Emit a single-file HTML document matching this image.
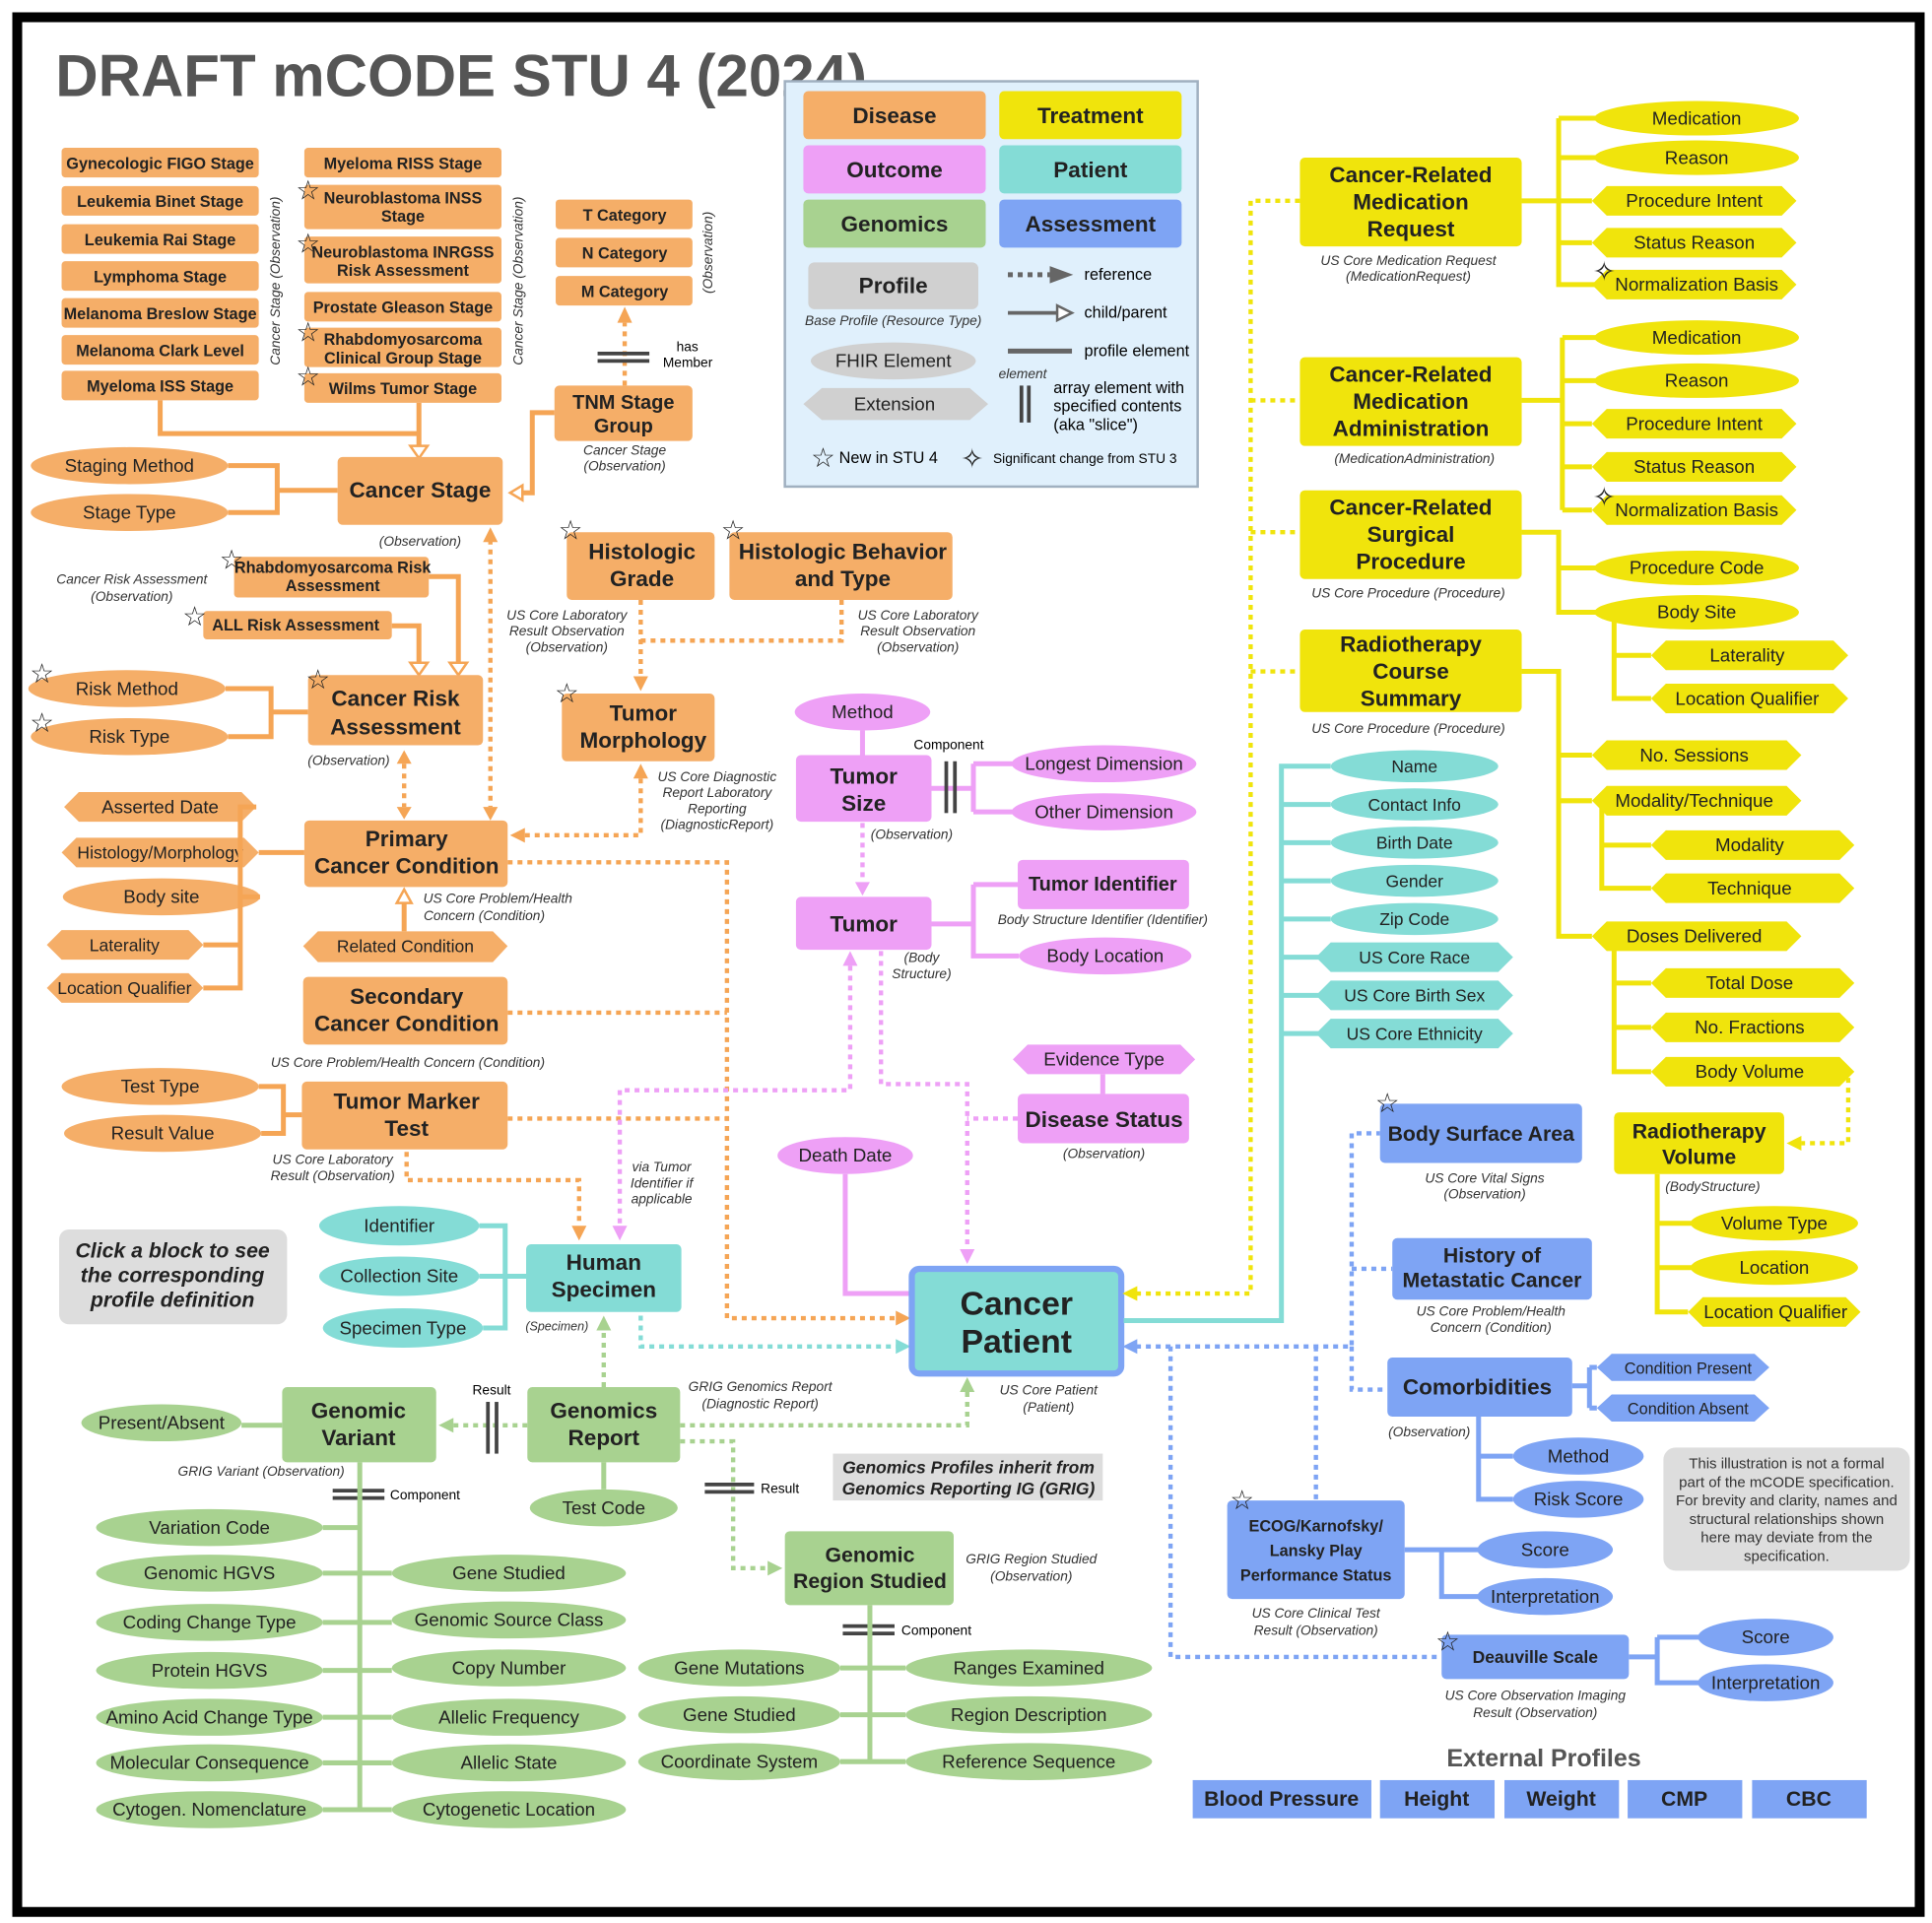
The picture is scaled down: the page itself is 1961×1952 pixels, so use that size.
<!DOCTYPE html>
<html><head><meta charset="utf-8"><style>
html,body{margin:0;padding:0;background:#fff}
svg{display:block;font-family:"Liberation Sans",sans-serif}
.o{fill:#f5ae68}.y{fill:#f0e40c}.p{fill:#eea0f6}.t{fill:#84dcd6}.g{fill:#a8d290}.b{fill:#7ea4f4}.gr{fill:#d0d0d0}
.L{font-weight:bold;font-size:18px;text-anchor:middle;fill:#222}
.S{font-weight:bold;font-size:13px;text-anchor:middle;fill:#222}
.E{font-size:15px;text-anchor:middle;fill:#222}
.I{font-style:italic;font-size:11px;text-anchor:middle;fill:#333}
.st{font-size:22px;text-anchor:middle;fill:#222}
[font-size="10"]{font-size:10px}[font-size="11"]{font-size:11px}[font-size="12"]{font-size:12px}[font-size="13"]{font-size:13px}
[font-size="14"]{font-size:14px}[font-size="16"]{font-size:16px}[font-size="17"]{font-size:17px}[font-size="20"]{font-size:20px}[font-size="27"]{font-size:27px}
[fill="#555"]{fill:#555}
.lo{stroke:#f5a555;stroke-width:4;fill:none}
.do{stroke:#f5a555;stroke-width:3.5;fill:none;stroke-dasharray:4 4}
.lp{stroke:#eea0f6;stroke-width:4;fill:none}
.dp{stroke:#eea0f6;stroke-width:3.5;fill:none;stroke-dasharray:4 4}
.ly{stroke:#f0e40c;stroke-width:4;fill:none}
.dy{stroke:#f0e40c;stroke-width:3.5;fill:none;stroke-dasharray:4 4}
.lt{stroke:#84dcd6;stroke-width:4;fill:none}
.dt{stroke:#84dcd6;stroke-width:3.5;fill:none;stroke-dasharray:4 4}
.lb{stroke:#7ea4f4;stroke-width:4;fill:none}
.db{stroke:#7ea4f4;stroke-width:3.5;fill:none;stroke-dasharray:4 4}
.lg{stroke:#a8d290;stroke-width:4;fill:none}
.dg{stroke:#a8d290;stroke-width:3.5;fill:none;stroke-dasharray:4 4}
.bar{stroke:#444;stroke-width:3;fill:none}
</style></head><body>
<svg width="1961" height="1952" viewBox="0 0 1568 1561" preserveAspectRatio="none" xmlns="http://www.w3.org/2000/svg">
<rect x="0" y="0" width="1568" height="1561" fill="#fff"/>
<rect x="14" y="14" width="1544" height="1538" fill="none" stroke="#000" stroke-width="8"/>
<text x="45" y="78" font-size="48" font-weight="bold" fill="#555">DRAFT mCODE STU 4 (2024)</text>

<!-- Legend -->
<rect x="637" y="66" width="335" height="329" fill="#e0f0fc" stroke="#a0b0c0" stroke-width="2"/>
<rect x="652" y="74" width="148" height="39" rx="4" class="o"/><text x="726" y="100" class="L">Disease</text>
<rect x="811" y="74" width="148" height="39" rx="4" class="y"/><text x="885" y="100" class="L">Treatment</text>
<rect x="652" y="118" width="148" height="39" rx="4" class="p"/><text x="726" y="144" class="L">Outcome</text>
<rect x="811" y="118" width="148" height="39" rx="4" class="t"/><text x="885" y="144" class="L">Patient</text>
<rect x="652" y="162" width="148" height="39" rx="4" class="g"/><text x="726" y="188" class="L">Genomics</text>
<rect x="811" y="162" width="148" height="39" rx="4" class="b"/><text x="885" y="188" class="L">Assessment</text>
<rect x="656" y="213" width="138" height="38" rx="5" class="gr"/><text x="725" y="238" class="L">Profile</text>
<text x="725" y="264" class="I">Base Profile (Resource Type)</text>
<ellipse cx="725" cy="293" rx="67" ry="15" class="gr"/><text x="725" y="298" class="E">FHIR Element</text>
<polygon points="652,328 667,315 787,315 802,328 787,341 667,341" class="gr"/><text x="726" y="333" class="E">Extension</text>
<line x1="818" y1="223" x2="852" y2="223" stroke="#666" stroke-width="4" stroke-dasharray="4 4"/><polygon points="852,216 871,223 852,230" fill="#666"/>
<text x="880" y="227" font-size="13">reference</text>
<line x1="818" y1="254" x2="858" y2="254" stroke="#666" stroke-width="3"/><polygon points="858,248 870,254 858,260" fill="#fff" stroke="#666" stroke-width="2"/>
<text x="880" y="258" font-size="13">child/parent</text>
<line x1="818" y1="285" x2="870" y2="285" stroke="#666" stroke-width="4"/><text x="880" y="289" font-size="13">profile element</text>
<text x="830" y="307" class="I">element</text>
<line x1="829" y1="313" x2="829" y2="343" class="bar"/><line x1="835" y1="313" x2="835" y2="343" class="bar"/>
<text x="855" y="319" font-size="13">array element with</text><text x="855" y="334" font-size="13">specified contents</text><text x="855" y="349" font-size="13">(aka "slice")</text>
<text x="668" y="379" class="st">☆</text><text x="681" y="376" font-size="13">New in STU 4</text>
<text x="789" y="380" class="st">✧</text><text x="806" y="376" font-size="11">Significant change from STU 3</text>

<!-- Stage boxes left -->
<g>
<rect x="50" y="120" width="160" height="24" rx="3" class="o"/><text x="130" y="137" class="S">Gynecologic FIGO Stage</text>
<rect x="50" y="151" width="160" height="24" rx="3" class="o"/><text x="130" y="168" class="S">Leukemia Binet Stage</text>
<rect x="50" y="182" width="160" height="24" rx="3" class="o"/><text x="130" y="199" class="S">Leukemia Rai Stage</text>
<rect x="50" y="212" width="160" height="24" rx="3" class="o"/><text x="130" y="229" class="S">Lymphoma Stage</text>
<rect x="50" y="242" width="160" height="24" rx="3" class="o"/><text x="130" y="259" class="S">Melanoma Breslow Stage</text>
<rect x="50" y="272" width="160" height="24" rx="3" class="o"/><text x="130" y="289" class="S">Melanoma Clark Level</text>
<rect x="50" y="301" width="160" height="24" rx="3" class="o"/><text x="130" y="318" class="S">Myeloma ISS Stage</text>
</g>
<text transform="translate(227,228) rotate(-90)" class="I">Cancer Stage (Observation)</text>
<rect x="247" y="120" width="160" height="24" rx="3" class="o"/><text x="327" y="137" class="S">Myeloma RISS Stage</text>
<rect x="247" y="150" width="160" height="36" rx="3" class="o"/><text x="327" y="165" class="S">Neuroblastoma INSS</text><text x="327" y="180" class="S">Stage</text>
<rect x="247" y="192" width="160" height="38" rx="3" class="o"/><text x="327" y="209" class="S">Neuroblastoma INRGSS</text><text x="327" y="224" class="S">Risk Assessment</text>
<rect x="247" y="237" width="160" height="24" rx="3" class="o"/><text x="327" y="254" class="S">Prostate Gleason Stage</text>
<rect x="247" y="266" width="160" height="32" rx="3" class="o"/><text x="327" y="280" class="S">Rhabdomyosarcoma</text><text x="327" y="295" class="S">Clinical Group Stage</text>
<rect x="247" y="303" width="160" height="24" rx="3" class="o"/><text x="327" y="320" class="S">Wilms Tumor Stage</text>
<text transform="translate(424,228) rotate(-90)" class="I">Cancer Stage (Observation)</text>
<text x="250" y="162" class="st">☆</text><text x="250" y="205" class="st">☆</text><text x="250" y="277" class="st">☆</text><text x="250" y="313" class="st">☆</text>
<rect x="451" y="162" width="111" height="24" rx="3" class="o"/><text x="507" y="179" class="S">T Category</text>
<rect x="451" y="193" width="111" height="24" rx="3" class="o"/><text x="507" y="210" class="S">N Category</text>
<rect x="451" y="224" width="111" height="24" rx="3" class="o"/><text x="507" y="241" class="S">M Category</text>
<text transform="translate(578,205) rotate(-90)" class="I">(Observation)</text>
<line x1="507" y1="313" x2="507" y2="262" class="do"/><polygon points="501,262 507,249 513,262" fill="#f5a555"/>
<line x1="485" y1="287" x2="527" y2="287" class="bar"/><line x1="485" y1="293" x2="527" y2="293" class="bar"/>
<text x="549" y="285" font-size="11">has</text><text x="538" y="298" font-size="11">Member</text>
<rect x="450" y="313" width="112" height="45" rx="4" class="o"/><text x="506" y="332" class="L" font-size="16">TNM Stage</text><text x="506" y="351" class="L" font-size="16">Group</text>
<text x="507" y="369" class="I">Cancer Stage</text><text x="507" y="382" class="I">(Observation)</text>

<!-- Cancer Stage -->
<path d="M130,325 V352 H340 V362 M340,327 V352" class="lo"/><polygon points="333,362 340,372 347,362" fill="#fff" stroke="#f5a555" stroke-width="2"/>
<path d="M450,335 H432 V400 H424" class="lo"/><polygon points="424,394 414,400 424,406" fill="#fff" stroke="#f5a555" stroke-width="2"/>
<ellipse cx="105" cy="378" rx="80" ry="15" class="o"/><text x="105" y="383" class="E">Staging Method</text>
<ellipse cx="105" cy="416" rx="80" ry="15" class="o"/><text x="105" y="421" class="E">Stage Type</text>
<path d="M185,378 H225 V416 H185 M225,398 H274" class="lo"/>
<rect x="274" y="371" width="134" height="55" rx="4" class="o"/><text x="341" y="404" class="L">Cancer Stage</text>
<text x="341" y="443" class="I">(Observation)</text>
<line x1="398" y1="438" x2="398" y2="655" class="do"/><polygon points="392,440 398,428 404,440" fill="#f5a555"/><polygon points="392,655 398,666 404,655" fill="#f5a555"/>

<!-- Risk -->
<text x="107" y="474" class="I">Cancer Risk Assessment</text><text x="107" y="488" class="I">(Observation)</text>
<rect x="190" y="452" width="158" height="33" rx="3" class="o"/><text x="270" y="465" class="S">Rhabdomyosarcoma Risk</text><text x="270" y="480" class="S">Assessment</text>
<rect x="165" y="496" width="153" height="23" rx="3" class="o"/><text x="240" y="512" class="S">ALL Risk Assessment</text>
<text x="188" y="462" class="st">☆</text><text x="158" y="508" class="st">☆</text>
<path d="M348,468 H372 V538 M318,508 H340 V538" class="lo"/>
<polygon points="365,538 372,548 379,538" fill="#fff" stroke="#f5a555" stroke-width="2"/><polygon points="333,538 340,548 347,538" fill="#fff" stroke="#f5a555" stroke-width="2"/>
<ellipse cx="103" cy="559" rx="80" ry="15" class="o"/><text x="103" y="564" class="E">Risk Method</text>
<ellipse cx="105" cy="598" rx="80" ry="15" class="o"/><text x="105" y="603" class="E">Risk Type</text>
<text x="34" y="554" class="st">☆</text><text x="34" y="594" class="st">☆</text>
<path d="M183,559 H220 V598 H185 M220,578 H250" class="lo"/>
<rect x="250" y="548" width="142" height="57" rx="4" class="o"/><text x="321" y="573" class="L">Cancer Risk</text><text x="321" y="596" class="L">Assessment</text>
<text x="258" y="559" class="st">☆</text>
<text x="283" y="621" class="I">(Observation)</text>
<line x1="328" y1="620" x2="328" y2="655" class="do"/><polygon points="322,620 328,609 334,620" fill="#f5a555"/><polygon points="322,655 328,665 334,655" fill="#f5a555"/>

<!-- Histologic -->
<rect x="460" y="432" width="120" height="55" rx="4" class="o"/><text x="521" y="454" class="L">Histologic</text><text x="521" y="476" class="L">Grade</text>
<rect x="592" y="432" width="181" height="55" rx="4" class="o"/><text x="684" y="454" class="L">Histologic Behavior</text><text x="684" y="476" class="L">and Type</text>
<text x="463" y="438" class="st">☆</text><text x="595" y="438" class="st">☆</text>
<text x="460" y="503" class="I">US Core Laboratory</text><text x="460" y="516" class="I">Result Observation</text><text x="460" y="529" class="I">(Observation)</text>
<text x="745" y="503" class="I">US Core Laboratory</text><text x="745" y="516" class="I">Result Observation</text><text x="745" y="529" class="I">(Observation)</text>
<path d="M520,487 V550 M683,487 V520 H520" class="do"/><polygon points="514,549 520,561 526,549" fill="#f5a555"/>
<rect x="456" y="563" width="124" height="55" rx="4" class="o"/><text x="522" y="585" class="L">Tumor</text><text x="522" y="607" class="L">Morphology</text>
<text x="460" y="570" class="st">☆</text>
<text x="582" y="634" class="I">US Core Diagnostic</text><text x="582" y="647" class="I">Report Laboratory</text><text x="582" y="660" class="I">Reporting</text><text x="582" y="673" class="I">(DiagnosticReport)</text>
<path d="M520,632 V678 H425" class="do"/><polygon points="514,632 520,620 526,632" fill="#f5a555"/><polygon points="426,672 414,678 426,684" fill="#f5a555"/>

<!-- Primary -->
<polygon points="52,655 64,643 196,643 208,655 196,667 64,667" class="o"/><text x="130" y="660" class="E">Asserted Date</text>
<polygon points="50,692 62,680 198,680 210,692 198,704 62,704" class="o"/><text x="130" y="697" class="E" font-size="14">Histology/Morphology</text>
<ellipse cx="131" cy="728" rx="80" ry="15" class="o"/><text x="131" y="733" class="E">Body site</text>
<polygon points="38,767 50,755 153,755 165,767 153,779 50,779" class="o"/><text x="101" y="772" class="E" font-size="14">Laterality</text>
<polygon points="38,802 50,790 153,790 165,802 153,814 50,814" class="o"/><text x="101" y="807" class="E" font-size="14">Location Qualifier</text>
<path d="M208,655 H195 V802 H165 M210,692 H247 M211,728 H195 M165,767 H195" class="lo"/>
<rect x="247" y="666" width="165" height="54" rx="4" class="o"/><text x="330" y="687" class="L">Primary</text><text x="330" y="709" class="L">Cancer Condition</text>
<text x="404" y="733" class="I">US Core Problem/Health</text><text x="393" y="747" class="I">Concern (Condition)</text>
<line x1="328" y1="756" x2="328" y2="732" class="lo"/><polygon points="322,733 328,722 334,733" fill="#fff" stroke="#f5a555" stroke-width="2"/>
<polygon points="246,768 258,756 400,756 412,768 400,781 258,781" class="o"/><text x="329" y="773" class="E" font-size="14">Related Condition</text>
<rect x="246" y="793" width="166" height="55" rx="4" class="o"/><text x="330" y="815" class="L">Secondary</text><text x="330" y="837" class="L">Cancer Condition</text>
<text x="331" y="866" class="I">US Core Problem/Health Concern (Condition)</text>

<!-- Tumor marker -->
<ellipse cx="130" cy="882" rx="80" ry="15" class="o"/><text x="130" y="887" class="E">Test Type</text>
<ellipse cx="132" cy="920" rx="80" ry="15" class="o"/><text x="132" y="925" class="E">Result Value</text>
<path d="M210,882 H230 V920 H212 M230,905 H245" class="lo"/>
<rect x="245" y="878" width="167" height="55" rx="4" class="o"/><text x="330" y="900" class="L">Tumor Marker</text><text x="330" y="922" class="L">Test</text>
<text x="270" y="945" class="I">US Core Laboratory</text><text x="270" y="958" class="I">Result (Observation)</text>
<path d="M330,935 V958 H470 V995" class="do"/><polygon points="464,995 470,1007 476,995" fill="#f5a555"/>
<path d="M412,700 H590 V1070 H728 M412,822 H590 M412,908 H590" class="do"/><polygon points="727,1064 739,1070 727,1076" fill="#f5a555"/>

<!-- Specimen -->
<rect x="48" y="998" width="185" height="77" rx="8" fill="#ddd"/>
<text x="140" y="1021" class="L" font-size="17" font-style="italic">Click a block to see</text>
<text x="140" y="1041" class="L" font-size="17" font-style="italic">the corresponding</text>
<text x="140" y="1061" class="L" font-size="17" font-style="italic">profile definition</text>
<ellipse cx="324" cy="995" rx="65" ry="16" class="t"/><text x="324" y="1000" class="E">Identifier</text>
<ellipse cx="324" cy="1036" rx="65" ry="16" class="t"/><text x="324" y="1041" class="E">Collection Site</text>
<ellipse cx="327" cy="1078" rx="65" ry="16" class="t"/><text x="327" y="1083" class="E">Specimen Type</text>
<path d="M389,995 H410 V1078 H392 M389,1036 H427" class="lt"/>
<rect x="427" y="1010" width="126" height="55" rx="4" class="t"/><text x="490" y="1031" class="L">Human</text><text x="490" y="1053" class="L">Specimen</text>
<text x="452" y="1080" class="I" font-size="10">(Specimen)</text>
<path d="M520,1068 V1093 H728" class="dt"/><polygon points="727,1087 739,1093 727,1099" fill="#84dcd6"/>

<!-- Pink -->
<ellipse cx="700" cy="578" rx="55" ry="15" class="p"/><text x="700" y="583" class="E">Method</text>
<line x1="700" y1="593" x2="700" y2="613" class="lp"/>
<text x="770" y="608" font-size="11" text-anchor="middle">Component</text>
<rect x="646" y="613" width="110" height="54" rx="4" class="p"/><text x="701" y="636" class="L">Tumor</text><text x="701" y="658" class="L">Size</text>
<path d="M756,640 H790 M790,620 V659 M790,620 H822 M790,659 H822" class="lp"/>
<line x1="768" y1="618" x2="768" y2="660" class="bar"/><line x1="775" y1="618" x2="775" y2="660" class="bar"/>
<ellipse cx="896" cy="620" rx="75" ry="15" class="p"/><text x="896" y="625" class="E">Longest Dimension</text>
<ellipse cx="896" cy="659" rx="75" ry="15" class="p"/><text x="896" y="664" class="E">Other Dimension</text>
<text x="740" y="681" class="I">(Observation)</text>
<line x1="700" y1="668" x2="700" y2="716" class="dp"/><polygon points="694,716 700,727 706,716" fill="#eea0f6"/>
<rect x="646" y="728" width="110" height="43" rx="4" class="p"/><text x="701" y="756" class="L">Tumor</text>
<text x="748" y="781" class="I">(Body</text><text x="748" y="794" class="I">Structure)</text>
<path d="M756,750 H790 M790,718 V776 H827 M790,718 H826" class="lp"/>
<rect x="826" y="698" width="139" height="40" rx="4" class="p"/><text x="895" y="723" class="L" font-size="16">Tumor Identifier</text>
<text x="895" y="750" class="I">Body Structure Identifier (Identifier)</text>
<ellipse cx="897" cy="776" rx="70" ry="15" class="p"/><text x="897" y="781" class="E">Body Location</text>
<path d="M690,784 V885 H503 V995" class="dp"/><polygon points="684,784 690,772 696,784" fill="#eea0f6"/><polygon points="497,995 503,1007 509,995" fill="#eea0f6"/>
<text x="537" y="951" class="I">via Tumor</text><text x="537" y="964" class="I">Identifier if</text><text x="537" y="977" class="I">applicable</text>
<path d="M715,772 V880 H785 V1015 M826,908 H785" class="dp"/><polygon points="779,1014 785,1026 791,1014" fill="#eea0f6"/>
<polygon points="822,860 834,848 958,848 970,860 958,872 834,872" class="p"/><text x="896" y="865" class="E">Evidence Type</text>
<line x1="895" y1="872" x2="895" y2="888" class="lp"/>
<rect x="826" y="888" width="139" height="40" rx="4" class="p"/><text x="896" y="915" class="L">Disease Status</text>
<text x="896" y="940" class="I">(Observation)</text>
<ellipse cx="686" cy="938" rx="55" ry="15" class="p"/><text x="686" y="943" class="E">Death Date</text>
<path d="M686,953 V1050 H740" class="lp"/>

<!-- Cancer Patient -->
<rect x="740" y="1030" width="170" height="85" rx="6" fill="#84dcd6" stroke="#7ea4f4" stroke-width="5"/>
<text x="825" y="1067" class="L" font-size="27">Cancer</text><text x="825" y="1098" class="L" font-size="27">Patient</text>
<text x="851" y="1132" class="I">US Core Patient</text><text x="851" y="1146" class="I">(Patient)</text>

<!-- Teal patient -->
<path d="M912,1072 H1040 V622 H1080 M1040,653 H1080 M1040,684 H1080 M1040,715 H1080 M1040,746 H1080 M1040,777 H1070 M1040,808 H1070 M1040,839 H1070" class="lt"/>
<ellipse cx="1148" cy="622" rx="68" ry="13" class="t"/><text x="1148" y="627" class="E" font-size="14">Name</text>
<ellipse cx="1148" cy="653" rx="68" ry="13" class="t"/><text x="1148" y="658" class="E" font-size="14">Contact Info</text>
<ellipse cx="1148" cy="684" rx="68" ry="13" class="t"/><text x="1148" y="689" class="E" font-size="14">Birth Date</text>
<ellipse cx="1148" cy="715" rx="68" ry="13" class="t"/><text x="1148" y="720" class="E" font-size="14">Gender</text>
<ellipse cx="1148" cy="746" rx="68" ry="13" class="t"/><text x="1148" y="751" class="E" font-size="14">Zip Code</text>
<polygon points="1068,777 1080,765 1216,765 1228,777 1216,789 1080,789" class="t"/><text x="1148" y="782" class="E" font-size="14">US Core Race</text>
<polygon points="1068,808 1080,796 1216,796 1228,808 1216,820 1080,820" class="t"/><text x="1148" y="813" class="E" font-size="14">US Core Birth Sex</text>
<polygon points="1068,839 1080,827 1216,827 1228,839 1216,851 1080,851" class="t"/><text x="1148" y="844" class="E" font-size="14">US Core Ethnicity</text>

<!-- Yellow -->
<path d="M1055,163 H1015 V1050 H922 M1015,325 H1055 M1015,432 H1055 M1015,545 H1055" class="dy"/><polygon points="923,1044 911,1050 923,1056" fill="#f0e40c"/>
<rect x="1055" y="128" width="180" height="72" rx="4" class="y"/><text x="1145" y="148" class="L">Cancer-Related</text><text x="1145" y="170" class="L">Medication</text><text x="1145" y="192" class="L">Request</text>
<text x="1143" y="215" class="I">US Core Medication Request</text><text x="1143" y="228" class="I">(MedicationRequest)</text>
<path d="M1235,163 H1265 V231 H1295 M1265,96 V163 M1265,96 H1295 M1265,128 H1295 M1265,163 H1292 M1265,197 H1292" class="ly"/>
<ellipse cx="1377" cy="96" rx="83" ry="14" class="y"/><text x="1377" y="101" class="E">Medication</text>
<ellipse cx="1377" cy="128" rx="83" ry="14" class="y"/><text x="1377" y="133" class="E">Reason</text>
<polygon points="1292,163 1304,151 1446,151 1458,163 1446,175 1304,175" class="y"/><text x="1375" y="168" class="E">Procedure Intent</text>
<polygon points="1292,197 1304,185 1446,185 1458,197 1446,209 1304,209" class="y"/><text x="1375" y="202" class="E">Status Reason</text>
<polygon points="1292,231 1304,219 1446,219 1458,231 1446,243 1304,243" class="y"/><text x="1377" y="236" class="E">Normalization Basis</text>
<text x="1302" y="228" class="st">✧</text>
<rect x="1055" y="290" width="180" height="72" rx="4" class="y"/><text x="1145" y="310" class="L">Cancer-Related</text><text x="1145" y="332" class="L">Medication</text><text x="1145" y="354" class="L">Administration</text>
<text x="1148" y="376" class="I">(MedicationAdministration)</text>
<path d="M1235,325 H1268 M1268,274 V414 M1268,274 H1295 M1268,309 H1295 M1268,344 H1292 M1268,379 H1292 M1268,414 H1292" class="ly"/>
<ellipse cx="1377" cy="274" rx="83" ry="14" class="y"/><text x="1377" y="279" class="E">Medication</text>
<ellipse cx="1377" cy="309" rx="83" ry="14" class="y"/><text x="1377" y="314" class="E">Reason</text>
<polygon points="1292,344 1304,332 1446,332 1458,344 1446,356 1304,356" class="y"/><text x="1375" y="349" class="E">Procedure Intent</text>
<polygon points="1292,379 1304,367 1446,367 1458,379 1446,391 1304,391" class="y"/><text x="1375" y="384" class="E">Status Reason</text>
<polygon points="1292,414 1304,402 1446,402 1458,414 1446,426 1304,426" class="y"/><text x="1377" y="419" class="E">Normalization Basis</text>
<text x="1302" y="411" class="st">✧</text>
<rect x="1055" y="398" width="180" height="72" rx="4" class="y"/><text x="1145" y="418" class="L">Cancer-Related</text><text x="1145" y="440" class="L">Surgical</text><text x="1145" y="462" class="L">Procedure</text>
<text x="1143" y="485" class="I">US Core Procedure (Procedure)</text>
<path d="M1235,432 H1265 V497 H1295 M1265,461 H1295 M1310,497 V567 H1340 M1310,532 H1340" class="ly"/>
<ellipse cx="1377" cy="461" rx="83" ry="14" class="y"/><text x="1377" y="466" class="E">Procedure Code</text>
<ellipse cx="1377" cy="497" rx="83" ry="14" class="y"/><text x="1377" y="502" class="E">Body Site</text>
<polygon points="1340,532 1352,520 1488,520 1500,532 1488,544 1352,544" class="y"/><text x="1418" y="537" class="E">Laterality</text>
<polygon points="1340,567 1352,555 1488,555 1500,567 1488,579 1352,579" class="y"/><text x="1418" y="572" class="E">Location Qualifier</text>
<rect x="1055" y="511" width="180" height="67" rx="4" class="y"/><text x="1145" y="529" class="L">Radiotherapy</text><text x="1145" y="551" class="L">Course</text><text x="1145" y="573" class="L">Summary</text>
<text x="1143" y="595" class="I">US Core Procedure (Procedure)</text>
<path d="M1235,545 H1265 V760 H1292 M1265,613 H1292 M1265,650 H1292 M1300,650 V721 H1340 M1300,686 H1340 M1310,760 V870 H1340 M1310,798 H1340 M1310,834 H1340" class="ly"/>
<polygon points="1292,613 1304,601 1450,601 1462,613 1450,625 1304,625" class="y"/><text x="1375" y="618" class="E">No. Sessions</text>
<polygon points="1292,650 1304,638 1450,638 1462,650 1450,662 1304,662" class="y"/><text x="1375" y="655" class="E">Modality/Technique</text>
<polygon points="1340,686 1352,674 1493,674 1505,686 1493,698 1352,698" class="y"/><text x="1420" y="691" class="E">Modality</text>
<polygon points="1340,721 1352,709 1493,709 1505,721 1493,733 1352,733" class="y"/><text x="1420" y="726" class="E">Technique</text>
<polygon points="1292,760 1304,748 1450,748 1462,760 1450,772 1304,772" class="y"/><text x="1375" y="765" class="E">Doses Delivered</text>
<polygon points="1340,798 1352,786 1493,786 1505,798 1493,810 1352,810" class="y"/><text x="1420" y="803" class="E">Total Dose</text>
<polygon points="1340,834 1352,822 1493,822 1505,834 1493,846 1352,846" class="y"/><text x="1420" y="839" class="E">No. Fractions</text>
<polygon points="1340,870 1352,858 1493,858 1505,870 1493,882 1352,882" class="y"/><text x="1420" y="875" class="E">Body Volume</text>
<path d="M1500,875 V928 H1462" class="dy"/><polygon points="1462,922 1450,928 1462,934" fill="#f0e40c"/>
<rect x="1310" y="903" width="138" height="50" rx="4" class="y"/><text x="1379" y="924" class="L" font-size="17">Radiotherapy</text><text x="1379" y="945" class="L" font-size="17">Volume</text>
<text x="1390" y="967" class="I">(BodyStructure)</text>
<path d="M1345,953 V1065 H1370 M1345,993 H1385 M1345,1029 H1385" class="ly"/>
<ellipse cx="1440" cy="993" rx="68" ry="14" class="y"/><text x="1440" y="998" class="E">Volume Type</text>
<ellipse cx="1440" cy="1029" rx="68" ry="14" class="y"/><text x="1440" y="1034" class="E">Location</text>
<polygon points="1370,1065 1382,1053 1498,1053 1510,1065 1498,1077 1382,1077" class="y"/><text x="1441" y="1070" class="E">Location Qualifier</text>

<!-- Blue -->
<path d="M922,1093 H1097 V920 H1120 M1097,1030 H1130 M1097,1093 V1128 H1126 M950,1093 V1345 H1168 M1068,1093 V1218" class="db"/>
<polygon points="923,1087 911,1093 923,1099" fill="#7ea4f4"/>
<rect x="1120" y="896" width="164" height="48" rx="4" class="b"/><text x="1202" y="926" class="L" font-size="17">Body Surface Area</text>
<text x="1126" y="903" class="st">☆</text>
<text x="1205" y="960" class="I">US Core Vital Signs</text><text x="1205" y="973" class="I">(Observation)</text>
<rect x="1130" y="1005" width="162" height="50" rx="4" class="b"/><text x="1211" y="1025" class="L" font-size="17">History of</text><text x="1211" y="1045" class="L" font-size="17">Metastatic Cancer</text>
<text x="1210" y="1068" class="I">US Core Problem/Health</text><text x="1210" y="1081" class="I">Concern (Condition)</text>
<rect x="1126" y="1102" width="150" height="48" rx="4" class="b"/><text x="1199" y="1132" class="L">Comorbidities</text>
<text x="1160" y="1166" class="I">(Observation)</text>
<path d="M1276,1125 H1290 M1290,1110 V1143 M1290,1110 H1296 M1290,1143 H1296 M1200,1150 V1217 H1228 M1200,1182 H1228" class="lb"/>
<polygon points="1296,1110 1308,1099 1424,1099 1436,1110 1424,1121 1308,1121" class="b"/><text x="1370" y="1115" class="E" font-size="13">Condition Present</text>
<polygon points="1296,1143 1308,1132 1424,1132 1436,1143 1424,1154 1308,1154" class="b"/><text x="1370" y="1148" class="E" font-size="13">Condition Absent</text>
<ellipse cx="1281" cy="1182" rx="53" ry="15" class="b"/><text x="1281" y="1187" class="E">Method</text>
<ellipse cx="1281" cy="1217" rx="53" ry="15" class="b"/><text x="1281" y="1222" class="E">Risk Score</text>
<rect x="996" y="1218" width="144" height="80" rx="4" class="b"/>
<text x="1068" y="1243" class="S">ECOG/Karnofsky/</text><text x="1068" y="1263" class="S">Lansky Play</text><text x="1068" y="1283" class="S">Performance Status</text>
<text x="1008" y="1225" class="st">☆</text>
<text x="1068" y="1313" class="I">US Core Clinical Test</text><text x="1068" y="1327" class="I">Result (Observation)</text>
<path d="M1140,1258 H1200 M1170,1258 V1296 H1200" class="lb"/>
<ellipse cx="1254" cy="1258" rx="55" ry="15" class="b"/><text x="1254" y="1263" class="E">Score</text>
<ellipse cx="1254" cy="1296" rx="55" ry="15" class="b"/><text x="1254" y="1301" class="E">Interpretation</text>
<rect x="1170" y="1327" width="152" height="36" rx="4" class="b"/><text x="1246" y="1350" class="S" font-size="14">Deauville Scale</text>
<text x="1175" y="1340" class="st">☆</text>
<text x="1246" y="1380" class="I">US Core Observation Imaging</text><text x="1246" y="1394" class="I">Result (Observation)</text>
<path d="M1322,1345 H1345 M1345,1329 V1366 H1380 M1345,1329 H1380" class="lb"/>
<ellipse cx="1433" cy="1329" rx="55" ry="15" class="b"/><text x="1433" y="1334" class="E">Score</text>
<ellipse cx="1433" cy="1366" rx="55" ry="15" class="b"/><text x="1433" y="1371" class="E">Interpretation</text>
<rect x="1350" y="1175" width="200" height="100" rx="10" fill="#ddd"/>
<g font-size="12" text-anchor="middle" fill="#333">
<text x="1450" y="1192">This illustration is not a formal</text><text x="1450" y="1207">part of the mCODE specification.</text>
<text x="1450" y="1222">For brevity and clarity, names and</text><text x="1450" y="1237">structural relationships shown</text>
<text x="1450" y="1252">here may deviate from the</text><text x="1450" y="1267">specification.</text></g>
<text x="1253" y="1434" class="L" font-size="20" fill="#555">External Profiles</text>
<rect x="968" y="1445" width="145" height="31" class="b"/><text x="1040" y="1466" class="L" font-size="17">Blood Pressure</text>
<rect x="1120" y="1445" width="93" height="31" class="b"/><text x="1166" y="1466" class="L" font-size="17">Height</text>
<rect x="1221" y="1445" width="93" height="31" class="b"/><text x="1267" y="1466" class="L" font-size="17">Weight</text>
<rect x="1321" y="1445" width="93" height="31" class="b"/><text x="1367" y="1466" class="L" font-size="17">CMP</text>
<rect x="1422" y="1445" width="93" height="31" class="b"/><text x="1468" y="1466" class="L" font-size="17">CBC</text>

<!-- Green -->
<path d="M490,1126 V1080" class="dg"/><polygon points="484,1080 490,1068 496,1080" fill="#a8d290"/>
<path d="M552,1157 H785 V1130" class="dg"/><polygon points="779,1130 785,1118 791,1130" fill="#a8d290"/>
<path d="M428,1157 H368" class="dg"/><polygon points="368,1151 356,1157 368,1163" fill="#a8d290"/>
<line x1="396" y1="1138" x2="396" y2="1180" class="bar"/><line x1="403" y1="1138" x2="403" y2="1180" class="bar"/>
<text x="399" y="1132" font-size="11" text-anchor="middle">Result</text>
<rect x="428" y="1126" width="124" height="61" rx="4" class="g"/><text x="490" y="1151" class="L">Genomics</text><text x="490" y="1173" class="L">Report</text>
<text x="617" y="1129" class="I">GRIG Genomics Report</text><text x="617" y="1143" class="I">(Diagnostic Report)</text>
<line x1="490" y1="1187" x2="490" y2="1209" class="lg"/>
<ellipse cx="490" cy="1224" rx="60" ry="15" class="g"/><text x="490" y="1229" class="E">Test Code</text>
<rect x="229" y="1126" width="125" height="61" rx="4" class="g"/><text x="291" y="1151" class="L">Genomic</text><text x="291" y="1173" class="L">Variant</text>
<line x1="229" y1="1157" x2="196" y2="1157" class="lg"/>
<ellipse cx="131" cy="1155" rx="65" ry="15" class="g"/><text x="131" y="1160" class="E">Present/Absent</text>
<text x="212" y="1198" class="I">GRIG Variant (Observation)</text>
<line x1="270" y1="1210" x2="312" y2="1210" class="bar"/><line x1="270" y1="1216" x2="312" y2="1216" class="bar"/>
<text x="345" y="1217" font-size="11" text-anchor="middle">Component</text>
<path d="M292,1187 V1469 M262,1240 H292 M262,1277 H318 M262,1317 H318 M262,1356 H318 M262,1394 H318 M262,1431 H318 M262,1469 H318" class="lg"/>
<g>
<ellipse cx="170" cy="1240" rx="92" ry="15" class="g"/><text x="170" y="1245" class="E">Variation Code</text>
<ellipse cx="170" cy="1277" rx="92" ry="15" class="g"/><text x="170" y="1282" class="E">Genomic HGVS</text>
<ellipse cx="170" cy="1317" rx="92" ry="15" class="g"/><text x="170" y="1322" class="E">Coding Change Type</text>
<ellipse cx="170" cy="1356" rx="92" ry="15" class="g"/><text x="170" y="1361" class="E">Protein HGVS</text>
<ellipse cx="170" cy="1394" rx="92" ry="15" class="g"/><text x="170" y="1399" class="E">Amino Acid Change Type</text>
<ellipse cx="170" cy="1431" rx="92" ry="15" class="g"/><text x="170" y="1436" class="E">Molecular Consequence</text>
<ellipse cx="170" cy="1469" rx="92" ry="15" class="g"/><text x="170" y="1474" class="E">Cytogen. Nomenclature</text>
<ellipse cx="413" cy="1277" rx="95" ry="15" class="g"/><text x="413" y="1282" class="E">Gene Studied</text>
<ellipse cx="413" cy="1315" rx="95" ry="15" class="g"/><text x="413" y="1320" class="E">Genomic Source Class</text>
<ellipse cx="413" cy="1354" rx="95" ry="15" class="g"/><text x="413" y="1359" class="E">Copy Number</text>
<ellipse cx="413" cy="1394" rx="95" ry="15" class="g"/><text x="413" y="1399" class="E">Allelic Frequency</text>
<ellipse cx="413" cy="1431" rx="95" ry="15" class="g"/><text x="413" y="1436" class="E">Allelic State</text>
<ellipse cx="413" cy="1469" rx="95" ry="15" class="g"/><text x="413" y="1474" class="E">Cytogenetic Location</text>
</g>
<rect x="676" y="1180" width="219" height="38" fill="#ddd"/>
<text x="786" y="1196" class="S" font-style="italic" font-size="14">Genomics Profiles inherit from</text>
<text x="786" y="1213" class="S" font-style="italic" font-size="14">Genomics Reporting IG (GRIG)</text>
<path d="M552,1170 H595 V1273 H623" class="dg"/><polygon points="623,1267 635,1273 623,1279" fill="#a8d290"/>
<line x1="572" y1="1205" x2="612" y2="1205" class="bar"/><line x1="572" y1="1211" x2="612" y2="1211" class="bar"/>
<text x="633" y="1212" font-size="11" text-anchor="middle">Result</text>
<rect x="637" y="1243" width="137" height="60" rx="4" class="g"/><text x="706" y="1268" class="L" font-size="17">Genomic</text><text x="706" y="1289" class="L" font-size="17">Region Studied</text>
<text x="837" y="1269" class="I">GRIG Region Studied</text><text x="837" y="1283" class="I">(Observation)</text>
<line x1="684" y1="1320" x2="726" y2="1320" class="bar"/><line x1="684" y1="1326" x2="726" y2="1326" class="bar"/>
<text x="760" y="1327" font-size="11" text-anchor="middle">Component</text>
<path d="M706,1303 V1430 M682,1354 H735 M682,1392 H735 M682,1430 H735" class="lg"/>
<ellipse cx="600" cy="1354" rx="82" ry="15" class="g"/><text x="600" y="1359" class="E">Gene Mutations</text>
<ellipse cx="600" cy="1392" rx="82" ry="15" class="g"/><text x="600" y="1397" class="E">Gene Studied</text>
<ellipse cx="600" cy="1430" rx="82" ry="15" class="g"/><text x="600" y="1435" class="E">Coordinate System</text>
<ellipse cx="835" cy="1354" rx="100" ry="15" class="g"/><text x="835" y="1359" class="E">Ranges Examined</text>
<ellipse cx="835" cy="1392" rx="100" ry="15" class="g"/><text x="835" y="1397" class="E">Region Description</text>
<ellipse cx="835" cy="1430" rx="100" ry="15" class="g"/><text x="835" y="1435" class="E">Reference Sequence</text>
</svg>
</body></html>
